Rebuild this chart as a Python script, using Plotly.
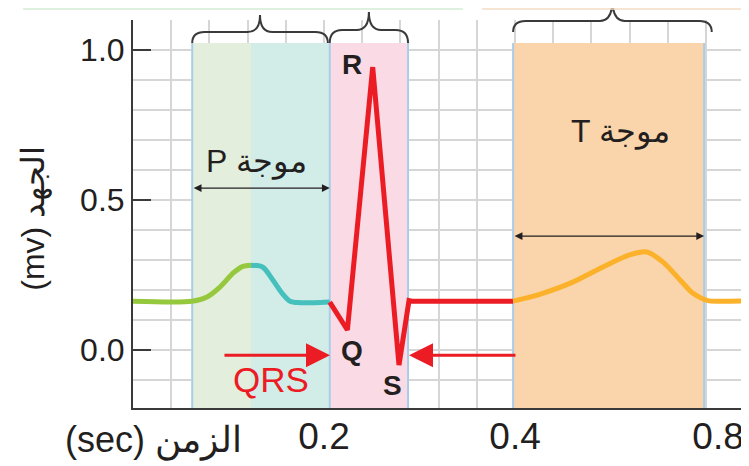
import plotly.graph_objects as go

# ---------------- data ----------------
X_RANGE = [0.0, 0.645]
Y_RANGE = [-0.193, 1.10]

# ECG segments (time in s, voltage in mV)
green_x = [0.0, 0.062, 0.0775, 0.091, 0.105, 0.115, 0.1235]
green_y = [0.163, 0.163, 0.177, 0.21, 0.257, 0.279, 0.283]
teal_x = [0.1235, 0.136, 0.1466, 0.156, 0.1644, 0.175, 0.19, 0.206]
teal_y = [0.283, 0.276, 0.233, 0.19, 0.163, 0.158, 0.158, 0.16]
red_x = [0.206, 0.2245, 0.251, 0.2785, 0.289, 0.292, 0.398]
red_y = [0.16, 0.067, 0.943, -0.05, 0.165, 0.163, 0.163]
orange_x = [0.398, 0.425, 0.458, 0.492, 0.52, 0.538, 0.555, 0.573, 0.586, 0.597, 0.603, 0.645]
orange_y = [0.163, 0.185, 0.223, 0.277, 0.317, 0.327, 0.293, 0.233, 0.19, 0.17, 0.164, 0.164]

# shaded wave regions
region_x0 = [0.062, 0.1235, 0.206, 0.398]
region_x1 = [0.1235, 0.206, 0.288, 0.598]
region_top = [1.023, 1.023, 1.023, 1.023]
region_colors = ["#e3eedc", "#d2ece8", "#fadae4", "#fad4aa"]
region_edges = [0.062, 0.206, 0.288, 0.398, 0.598]

# braces above the regions
brace_x0 = [0.062, 0.206, 0.398]
brace_x1 = [0.204, 0.288, 0.606]
brace_y_end = [1.023, 1.023, 1.06]
brace_y_mid = [1.060, 1.067, 1.097]
brace_y_tip = [1.117, 1.127, 1.167]

# tick labels
x_tickvals = [0.2, 0.4, 0.6126]
x_ticktext = ["0.2", "0.4", "0.8"]
y_tickvals = [0.0, 0.5, 1.0]
y_ticktext = ["0.0", "0.5", "1.0"]

# text labels
p_label = "P موجة"
t_label = "T موجة"
x_title = "(sec) الزمن"
y_title = "(mv) الجهد"

FONT = "Liberation Sans, Arial, sans-serif"
TXT = "#231f20"
AX = "#3a3a3a"
GRID = "#d6d6d6"

# the page body has an 8px default margin; size the figure so the plot lands in place
PAGE_PAD = 8
W, H = 749 - PAGE_PAD, 466 - PAGE_PAD


def xp(v):
    return (v - X_RANGE[0]) / (X_RANGE[1] - X_RANGE[0])


def yp(v):
    return (v - Y_RANGE[0]) / (Y_RANGE[1] - Y_RANGE[0])


fig = go.Figure()

for xs, ys, col, shp in [
    (green_x, green_y, "#95c83d", "spline"),
    (teal_x, teal_y, "#45c0bc", "spline"),
    (red_x, red_y, "#ec1c24", "linear"),
    (orange_x, orange_y, "#fbb22a", "spline"),
]:
    fig.add_trace(go.Scatter(
        x=xs, y=ys, mode="lines",
        line=dict(color=col, width=5, shape=shp, smoothing=0.8),
        hoverinfo="skip", showlegend=False,
    ))

shapes = []
for x0, x1, top, c in zip(region_x0, region_x1, region_top, region_colors):
    shapes.append(dict(type="rect", xref="x", yref="y", x0=x0, x1=x1,
                       y0=Y_RANGE[0], y1=top, fillcolor=c,
                       line=dict(width=0), layer="between"))
for e in region_edges:
    shapes.append(dict(type="line", xref="x", yref="y", x0=e, x1=e,
                       y0=Y_RANGE[0], y1=region_top[0],
                       line=dict(color="#a9cde9", width=2), layer="between"))

# braces (paper coords, converted from data values)
rx = 0.013
for x0, x1, ye, ym, yt in zip(brace_x0, brace_x1, brace_y_end, brace_y_mid, brace_y_tip):
    xm = (x0 + x1) / 2
    P = lambda x, y: f"{xp(x):.5f},{yp(y):.5f}"
    path = (f"M {P(x0, ye)} Q {P(x0, ym)} {P(x0 + rx, ym)} "
            f"L {P(xm - rx, ym)} Q {P(xm, ym)} {P(xm, yt)} "
            f"Q {P(xm, ym)} {P(xm + rx, ym)} "
            f"L {P(x1 - rx, ym)} Q {P(x1, ym)} {P(x1, ye)}")
    shapes.append(dict(type="path", xref="paper", yref="paper", path=path,
                       line=dict(color="#3a3a3a", width=2)))

# faint top rule lines (from the source page)
top_y = yp(1.137)
shapes.append(dict(type="line", xref="paper", yref="paper", x0=xp(-0.115), x1=xp(0.3455),
                   y0=top_y, y1=top_y, line=dict(color="#d3ecd3", width=1.5)))
shapes.append(dict(type="line", xref="paper", yref="paper", x0=xp(0.3655), x1=xp(0.645),
                   y0=top_y, y1=top_y, line=dict(color="#f5dcc6", width=1.5)))

annotations = []
# double-headed duration arrows
for x0, x1, yv in [(0.062, 0.206, 0.54), (0.398, 0.598, 0.38)]:
    annotations.append(dict(x=x1, y=yv, ax=x0, ay=yv, xref="x", yref="y", axref="x", ayref="y",
                            text="", showarrow=True, arrowhead=2, arrowside="end+start",
                            arrowsize=1.2, arrowwidth=1.3, arrowcolor="#231f20"))
# red QRS pointers
for xh, xt in [(0.2063, 0.0942), (0.289, 0.402)]:
    annotations.append(dict(x=xh, y=-0.017, ax=xt, ay=-0.017, xref="x", yref="y",
                            axref="x", ayref="y", text="", showarrow=True,
                            arrowhead=2, arrowsize=1.6, arrowwidth=3, arrowcolor="#ec1c24"))

for txt, x, y, size, col, bold in [
    ("R", 0.2293, 0.953, 28, TXT, True),
    ("Q", 0.2293, -0.003, 28, TXT, True),
    ("S", 0.2722, -0.117, 28, TXT, True),
    ("QRS", 0.1445, -0.097, 35, "#ec1c24", False),
    (p_label, 0.1298, 0.627, 32, TXT, False),
    (t_label, 0.51, 0.727, 32, TXT, False),
]:
    annotations.append(dict(x=x, y=y, xref="x", yref="y", text=f"<b>{txt}</b>" if bold else txt,
                            showarrow=False, xanchor="center", yanchor="middle",
                            font=dict(family=FONT, size=size, color=col)))

annotations.append(dict(x=xp(0.021), y=yp(-0.30), xref="paper", yref="paper", text=x_title,
                        showarrow=False, xanchor="center", yanchor="middle",
                        font=dict(family=FONT, size=36, color=TXT)))
annotations.append(dict(x=xp(-0.105), y=yp(0.44), xref="paper", yref="paper", text=y_title,
                        showarrow=False, xanchor="center", yanchor="middle", textangle=-90,
                        font=dict(family=FONT, size=32, color=TXT)))

fig.update_layout(
    width=W, height=H,
    margin=dict(l=133 - PAGE_PAD, r=0, t=20 - PAGE_PAD, b=58, autoexpand=False),
    paper_bgcolor="white", plot_bgcolor="white",
    shapes=shapes, annotations=annotations,
    xaxis=dict(range=X_RANGE, tickmode="array", tickvals=x_tickvals, ticktext=x_ticktext,
               ticks="", showgrid=False, zeroline=False, showline=True, linecolor=AX,
               linewidth=2, automargin=False, ticklabelstandoff=-5,
               tickfont=dict(family=FONT, size=37, color=TXT),
               minor=dict(tickmode="linear", tick0=0, dtick=0.04, showgrid=True,
                          gridcolor=GRID, gridwidth=2, ticks="")),
    yaxis=dict(range=Y_RANGE, tickmode="array", tickvals=y_tickvals, ticktext=y_ticktext,
               ticks="inside", ticklen=18, tickwidth=2, tickcolor=AX,
               showgrid=True, gridcolor=GRID, gridwidth=2, zeroline=False,
               showline=True, linecolor=AX, linewidth=2, automargin=False,
               tickfont=dict(family=FONT, size=32, color=TXT),
               minor=dict(tickmode="linear", tick0=0, dtick=0.1, showgrid=True,
                          gridcolor=GRID, gridwidth=2, ticks="")),
)

fig.write_html("out.html")
